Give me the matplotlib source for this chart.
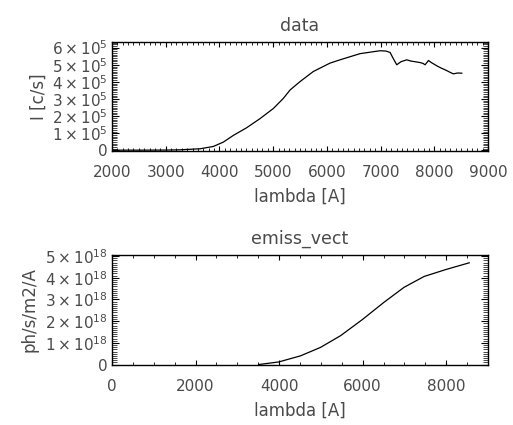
import matplotlib
matplotlib.use('Agg')
import matplotlib.pyplot as plt
from matplotlib.ticker import MultipleLocator, FuncFormatter

# observed spectrum (top panel)
lam_data = [2000, 2500, 3000, 3266, 3639, 3887, 4073, 4259, 4508, 4756, 5004,
            5190, 5315, 5501, 5749, 6060, 6246, 6618, 6991, 7100, 7177, 7230,
            7301, 7380, 7487, 7560, 7640, 7736, 7790, 7829, 7891, 7950, 8046,
            8120, 8233, 8300, 8357, 8430, 8512]
flux_data = [2000, 2000, 2500, 4000, 10000, 23500, 49000, 88000, 133000,
             186000, 245000, 304000, 353000, 402000, 461000, 510000, 529000,
             565000, 582000, 580000, 572000, 540000, 500000, 518000, 529000,
             522000, 518000, 513000, 508000, 500000, 525000, 512000, 494000,
             482000, 466000, 455000, 447000, 452000, 451000]

# emission vector (bottom panel)
lam_emiss = [3510, 3990, 4510, 4990, 5470, 5990, 6510, 6990, 7470, 7990, 8550]
emiss = [0.0, 0.12e18, 0.40e18, 0.79e18, 1.33e18, 2.07e18, 2.87e18,
         3.56e18, 4.06e18, 4.38e18, 4.69e18]

txt = '#4a4a4a'
plt.rcParams['mathtext.default'] = 'regular'


def sci(v, pos):
    if v == 0:
        return '0'
    e = 0
    m = abs(v)
    while m >= 10:
        m /= 10.0
        e += 1
    return r'$%d\times10^{%d}$' % (round(v / 10 ** e), e)


def style(ax):
    ax.tick_params(which='both', direction='in', top=True, right=True,
                   labelsize=11, labelcolor=txt)
    ax.tick_params(axis='x', which='major', length=3.5, width=0.8, pad=10)
    ax.tick_params(axis='x', which='minor', length=2, width=0.6)
    ax.tick_params(axis='y', which='major', length=5, width=0.8, pad=3)
    ax.tick_params(axis='y', which='minor', length=3.5, width=0.5)
    for s in ax.spines.values():
        s.set_linewidth(1.0)


fig = plt.figure(figsize=(5.13, 4.25), dpi=100)

ax1 = fig.add_axes([0.2183, 0.6447, 0.733, 0.2565])
ax1.plot(lam_data, flux_data, color='black', lw=0.9)
ax1.set_xlim(2000, 9000)
ax1.set_ylim(-3000, 6.33e5)
ax1.xaxis.set_major_locator(MultipleLocator(1000))
ax1.xaxis.set_minor_locator(MultipleLocator(100))
ax1.yaxis.set_major_locator(MultipleLocator(1e5))
ax1.yaxis.set_minor_locator(MultipleLocator(1e4))
ax1.yaxis.set_major_formatter(FuncFormatter(sci))
ax1.set_title('data', fontsize=12.5, color=txt, pad=8)
ax1.set_xlabel('lambda [A]', fontsize=12, color=txt, labelpad=6)
ax1.set_ylabel('I [c/s]', fontsize=12, color=txt, labelpad=3)
style(ax1)

ax2 = fig.add_axes([0.2183, 0.1412, 0.733, 0.2588])
ax2.plot(lam_emiss, emiss, color='black', lw=0.9)
ax2.set_xlim(0, 9000)
ax2.set_ylim(-0.02e18, 5.05e18)
ax2.xaxis.set_major_locator(MultipleLocator(2000))
ax2.xaxis.set_minor_locator(MultipleLocator(500))
ax2.yaxis.set_major_locator(MultipleLocator(1e18))
ax2.yaxis.set_minor_locator(MultipleLocator(1e17))
ax2.yaxis.set_major_formatter(FuncFormatter(sci))
ax2.set_title('emiss_vect', fontsize=12.5, color=txt, pad=8)
ax2.set_xlabel('lambda [A]', fontsize=12, color=txt, labelpad=6)
ax2.set_ylabel('ph/s/m2/A', fontsize=12, color=txt, labelpad=5)
style(ax2)

fig.savefig('out.png', dpi=100)
